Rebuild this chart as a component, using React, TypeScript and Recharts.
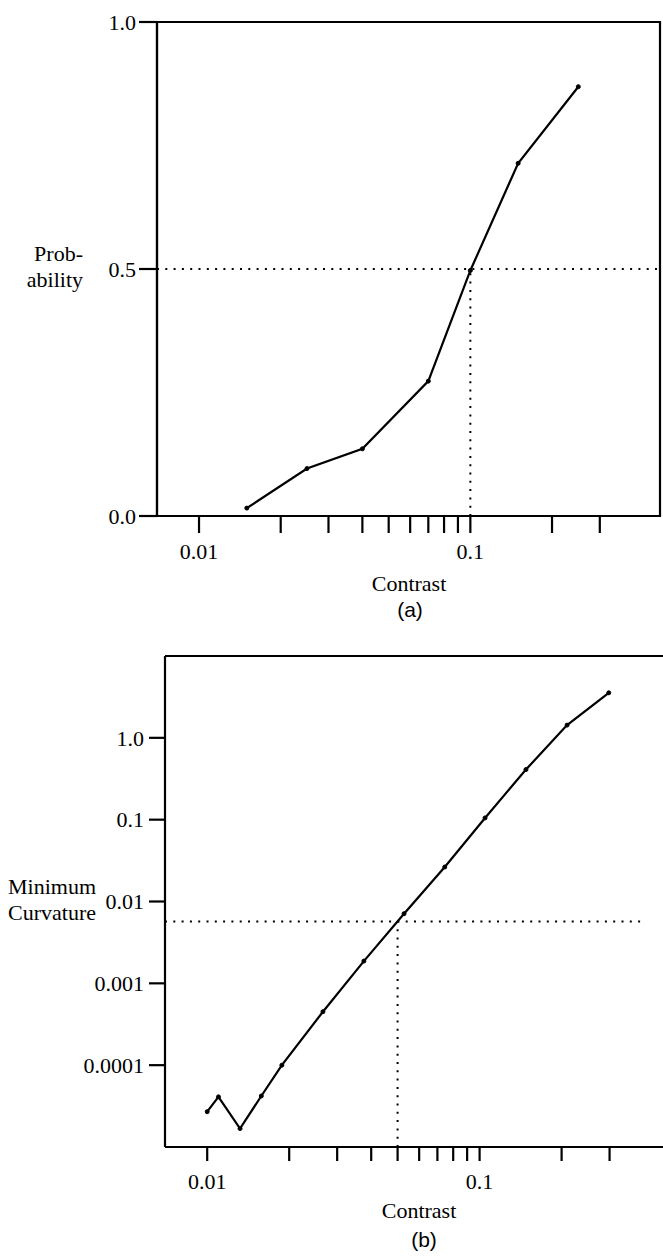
import { LineChart, Line, XAxis, YAxis, ReferenceLine, ReferenceArea } from 'recharts'

// (a) probability of detection vs contrast
const contrastA = [0.015, 0.025, 0.04, 0.07, 0.1, 0.15, 0.25]
const probability = [0.016, 0.096, 0.136, 0.273, 0.497, 0.714, 0.869]

// (b) minimum curvature vs contrast
const contrastB = [0.01, 0.011, 0.0132, 0.0158, 0.0188, 0.0266, 0.0376, 0.0528, 0.0745, 0.1047, 0.148, 0.2095, 0.298]
const curvature = [2.7e-5, 4.1e-5, 1.68e-5, 4.2e-5, 1.0e-4, 4.5e-4, 1.87e-3, 7.1e-3, 2.64e-2, 0.105, 0.41, 1.43, 3.55]

const contrastTicks = [0.01, 0.02, 0.03, 0.04, 0.05, 0.06, 0.07, 0.08, 0.09, 0.1, 0.2, 0.3]
const labelledContrast = [0.01, 0.1]
const probTicks = [0, 0.5, 1.0]
const curvTicks = [0.0001, 0.001, 0.01, 0.1, 1.0]

const contrastDomain = [0.007, 0.5]
const probDomain = [0, 1]
const curvDomain = [1e-5, 10]

// threshold guides
const probThreshold = 0.5
const contrastAtHalf = 0.1
const curvThreshold = 0.0057
const contrastAtCurv = 0.05
const curvGuideEnd = 0.4

const dataA = contrastA.map((c, i) => ({ c, v: probability[i] }))
const dataB = contrastB.map((c, i) => ({ c, v: curvature[i] }))

const serif = "'Liberation Serif', 'Times New Roman', serif"
const tickStyle = { fill: '#000', fontSize: 22, fontFamily: serif }
const dotted = { stroke: '#000', strokeWidth: 2, strokeDasharray: '2 6.3' }
const axisStroke = { stroke: '#000', strokeWidth: 2.2 }

const fmtContrast = (t: number) => (labelledContrast.includes(t) ? String(t) : '')
const fmtCurv = (t: number) => (t === 1 ? '1.0' : String(t))

export default function App () {
  return (
    <div style={{ position: 'absolute', left: 0, top: 0, width: 663, height: 1257, overflow: 'hidden', background: '#fff' }}>
      <div style={{ position: 'absolute', left: 0, top: 0, width: 663 }}>
        <LineChart width={663} height={660} data={dataA} margin={{ top: 22, right: 3, left: 0, bottom: 94 }}>
          <XAxis
            dataKey='c'
            type='number'
            scale='log'
            domain={contrastDomain}
            allowDataOverflow
            ticks={contrastTicks}
            tickFormatter={fmtContrast}
            tick={tickStyle}
            tickSize={17}
            tickMargin={10}
            height={50}
            interval={0}
            axisLine={axisStroke}
            tickLine={axisStroke}
          />
          <YAxis
            type='number'
            domain={probDomain}
            ticks={probTicks}
            tickFormatter={(t: number) => t.toFixed(1)}
            tick={tickStyle}
            tickSize={18}
            tickMargin={3}
            width={157}
            interval={0}
            axisLine={axisStroke}
            tickLine={axisStroke}
          />
          <ReferenceArea x1={contrastDomain[0]} x2={contrastDomain[1]} y1={probDomain[0]} y2={probDomain[1]}
            fill='none' stroke='#000' strokeWidth={2.2} ifOverflow='visible' />
          <ReferenceLine y={probThreshold} {...dotted} />
          <ReferenceLine segment={[{ x: contrastAtHalf, y: probDomain[0] }, { x: contrastAtHalf, y: probThreshold }]} {...dotted} />
          <Line
            dataKey='v'
            type='linear'
            stroke='#000'
            strokeWidth={2.2}
            dot={{ r: 2, fill: '#000', stroke: '#000', strokeWidth: 1 }}
            isAnimationActive={false}
          />
        </LineChart>
      </div>

      <div style={{ position: 'absolute', left: 0, top: 600, width: 680 }}>
        <LineChart width={680} height={657} data={dataB} margin={{ top: 56, right: 10, left: 0, bottom: 60 }}>
          <XAxis
            dataKey='c'
            type='number'
            scale='log'
            domain={contrastDomain}
            allowDataOverflow
            ticks={contrastTicks}
            tickFormatter={fmtContrast}
            tick={tickStyle}
            tickSize={14}
            tickMargin={12}
            height={50}
            interval={0}
            axisLine={axisStroke}
            tickLine={axisStroke}
          />
          <YAxis
            type='number'
            scale='log'
            domain={curvDomain}
            allowDataOverflow
            ticks={curvTicks}
            tickFormatter={fmtCurv}
            tick={tickStyle}
            tickSize={16}
            tickMargin={5}
            width={165}
            interval={0}
            axisLine={axisStroke}
            tickLine={axisStroke}
          />
          {/* top border only: the right side runs off the page in the original */}
          <ReferenceLine y={curvDomain[1]} stroke='#000' strokeWidth={2.2} ifOverflow='visible' />
          <ReferenceLine segment={[{ x: contrastDomain[0], y: curvThreshold }, { x: curvGuideEnd, y: curvThreshold }]} {...dotted} />
          <ReferenceLine segment={[{ x: contrastAtCurv, y: curvDomain[0] }, { x: contrastAtCurv, y: curvThreshold }]} {...dotted} />
          <Line
            dataKey='v'
            type='linear'
            stroke='#000'
            strokeWidth={2.2}
            dot={{ r: 2, fill: '#000', stroke: '#000', strokeWidth: 1 }}
            isAnimationActive={false}
          />
        </LineChart>
      </div>

      {/* axis titles and captions */}
      <svg width={663} height={1257} style={{ position: 'absolute', left: 0, top: 0, pointerEvents: 'none' }}>
        <g fontFamily={serif} fontSize={22} fill='#000'>
          <text x={83} y={261} textAnchor='end'>Prob-</text>
          <text x={83} y={287} textAnchor='end'>ability</text>
          <text x={409} y={591} textAnchor='middle'>Contrast</text>
          <text x={8} y={894}>Minimum</text>
          <text x={8} y={920}>Curvature</text>
          <text x={419} y={1218} textAnchor='middle'>Contrast</text>
        </g>
        <g fontFamily="'Liberation Sans', Arial, sans-serif" fontSize={21} fill='#000'>
          <text x={410} y={617} textAnchor='middle'>(a)</text>
          <text x={424} y={1247} textAnchor='middle'>(b)</text>
        </g>
      </svg>
    </div>
  )
}
